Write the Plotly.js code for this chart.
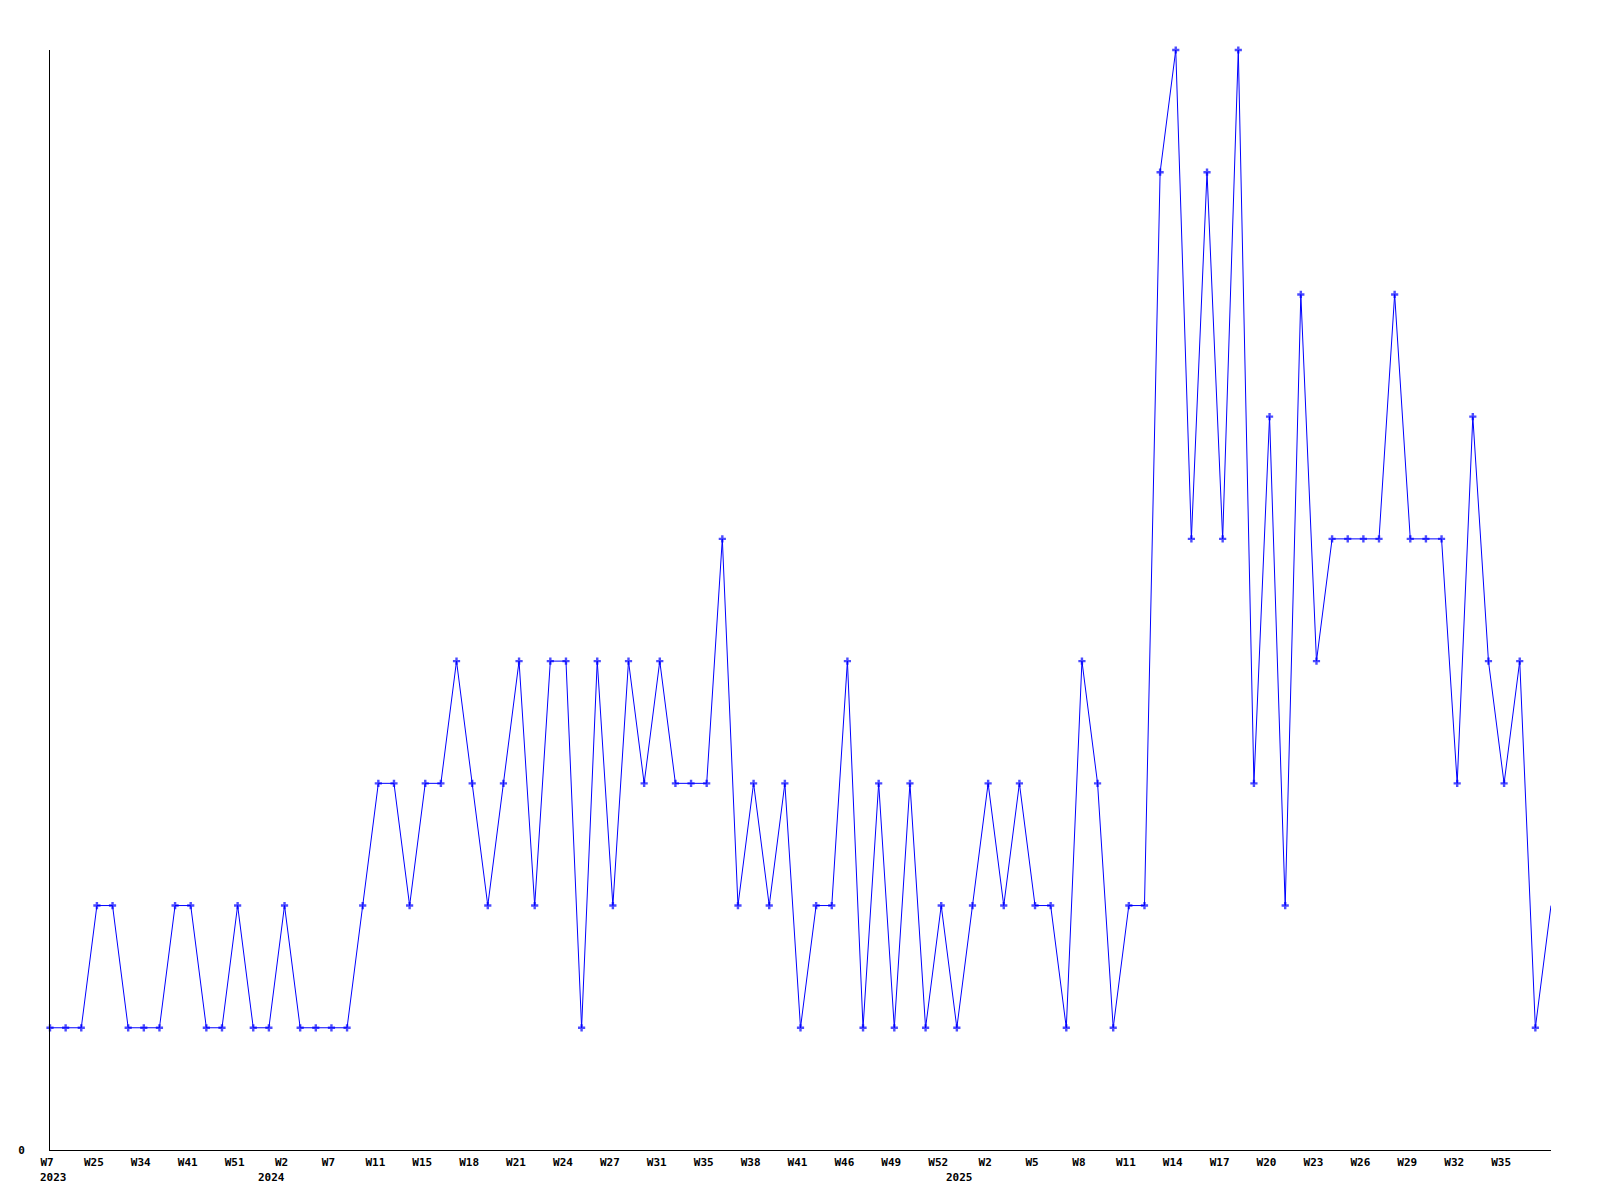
<!DOCTYPE html>
<html>
<head>
<meta charset="utf-8">
<script src="https://cdn.plot.ly/plotly-3.0.1.min.js"></script>
<style>
  html, body { margin: 0; padding: 0; background: #ffffff; }
  #chart { width: 1600px; height: 1200px; }
</style>
</head>
<body>
<div id="chart"></div>
<script>
// Weekly counts, one per observed week (in order)
const values = [
  1, 1, 1, 2, 2, 1, 1, 1, 2, 2,
  1, 1, 2, 1, 1, 2, 1, 1, 1, 1,
  2, 3, 3, 2, 3, 3, 4, 3, 2, 3,
  4, 2, 4, 4, 1, 4, 2, 4, 3, 4,
  3, 3, 3, 5, 2, 3, 2, 3, 1, 2,
  2, 4, 1, 3, 1, 3, 1, 2, 1, 2,
  3, 2, 3, 2, 2, 1, 4, 3, 1, 2,
  2, 8, 9, 5, 8, 5, 9, 3, 6, 2,
  7, 4, 5, 5, 5, 5, 7, 5, 5, 5,
  3, 6, 4, 3, 4, 1, 2
];

// Tick positions (index of observed week) and their week labels
const tickIndex = [0, 3, 6, 9, 12, 15, 18, 21, 24, 27, 30, 33, 36, 39, 42, 45,
                   48, 51, 54, 57, 60, 63, 66, 69, 72, 75, 78, 81, 84, 87, 90, 93];
const tickWeeks = ["W7", "W25", "W34", "W41", "W51", "W2", "W7", "W11", "W15", "W18",
                   "W21", "W24", "W27", "W31", "W35", "W38", "W41", "W46", "W49", "W52",
                   "W2", "W5", "W8", "W11", "W14", "W17", "W20", "W23", "W26", "W29",
                   "W32", "W35"];
// Year labels under the week row
const yearLabels = ["2023", "2024", "2025"];
const yearPos = [0.2, 14.15, 58.15];

const xs = values.map((v, i) => i);
const ticktext = tickWeeks.map(w => "<b>" + w + "</b>");
const markerSizes = values.map((v, i) => (i === values.length - 1 ? 0 : 6));

const trace = {
  type: "scatter",
  mode: "lines+markers",
  x: xs,
  y: values,
  line: { color: "#0000ff", width: 1 },
  marker: { color: "#0000ff", size: markerSizes, symbol: "cross", line: { width: 0 } },
  cliponaxis: false,
  hoverinfo: "none"
};

const annotations = yearLabels.map((t, i) => ({
  text: "<b>" + t + "</b>",
  x: yearPos[i],
  xref: "x",
  y: 0,
  yref: "paper",
  yshift: -27,
  xanchor: "center",
  yanchor: "middle",
  showarrow: false,
  font: { family: "DejaVu Sans Mono, monospace", size: 11, color: "#000000" }
}));

const layout = {
  width: 1600,
  height: 1200,
  paper_bgcolor: "#ffffff",
  plot_bgcolor: "#ffffff",
  showlegend: false,
  margin: { l: 50, r: 49, t: 50, b: 50, pad: 0 },
  font: { family: "DejaVu Sans Mono, monospace", size: 11, color: "#000000" },
  annotations: annotations,
  xaxis: {
    range: [0, 96],
    showgrid: false,
    zeroline: false,
    showline: true,
    linecolor: "#000000",
    linewidth: 1,
    ticks: "",
    tickmode: "array",
    tickvals: tickIndex,
    ticktext: ticktext,
    tickangle: 0,
    ticklabelstandoff: 2,
    ticklabelshift: -3,
    tickfont: { family: "DejaVu Sans Mono, monospace", size: 11, color: "#000000" }
  },
  yaxis: {
    range: [0, 9],
    showgrid: false,
    zeroline: false,
    showline: true,
    linecolor: "#000000",
    linewidth: 1,
    ticks: "",
    tickmode: "array",
    tickvals: [0],
    ticktext: ["<b>0</b>"],
    ticklabelstandoff: 22,
    tickfont: { family: "DejaVu Sans Mono, monospace", size: 11, color: "#000000" }
  }
};

Plotly.newPlot("chart", [trace], layout, { displayModeBar: false, staticPlot: true });
</script>
</body>
</html>
